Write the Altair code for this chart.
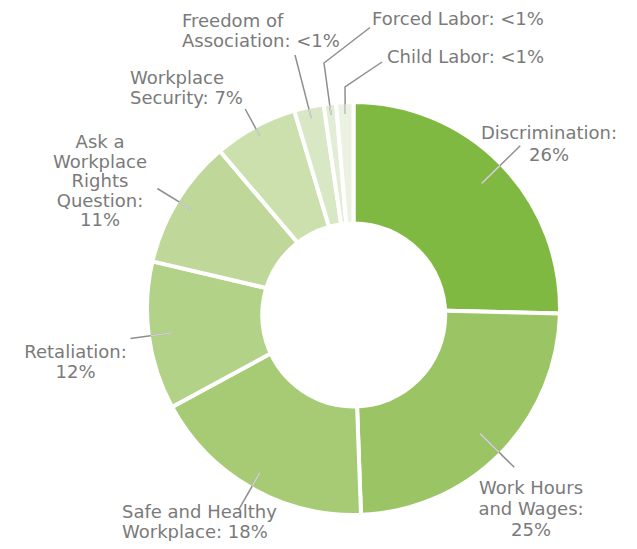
import altair as alt
import pandas as pd
import numpy as np

# ---- data ----
categories = ["Discrimination", "Work Hours and Wages", "Safe and Healthy Workplace",
              "Retaliation", "Ask a Workplace Rights Question", "Workplace Security",
              "Freedom of Association", "Forced Labor", "Child Labor"]
# slice sizes as drawn (small categories are drawn wider than their <1% share)
shares = [26.3, 24.9, 18.3, 12.0, 10.5, 6.8, 2.4, 1.0, 1.4]
share_text = ["26%", "25%", "18%", "12%", "11%", "7%", "<1%", "<1%", "<1%"]
label_lines = [
    ["Discrimination:", "26%"],
    ["Work Hours", "and Wages:", "25%"],
    ["Safe and Healthy", "Workplace: 18%"],
    ["Retaliation:", "12%"],
    ["Ask a", "Workplace", "Rights", "Question:", "11%"],
    ["Workplace", "Security: 7%"],
    ["Freedom of", "Association: <1%"],
    ["Forced Labor: <1%"],
    ["Child Labor: <1%"],
]
colors = ["#80b942", "#9bc564", "#a6cb74", "#b2d287", "#bfd899",
          "#cce0ae", "#d8e8c5", "#e2edd6", "#ebf2e2"]

# ---- layout (styles / positions, relative to donut centre) ----
W, H = 621, 533
CX, CY = 345.5, 300.5          # centre of the pie
HOLE_DX, HOLE_DY, HOLE_R = 0.2, 6.5, 93.5   # white hole sits a little low
R_OUT = 206.5
# label anchor (dx, first-line dy, line spacing, align)
label_layout = [
    (195.5, -175, 22, "center"),
    (177.5, 180, 21, "center"),
    (-231.5, 204, 20, "left"),
    (-278, 44, 20.5, "center"),
    (-253.5, -165.5, 19.5, "center"),
    (-223.5, -230, 20, "left"),
    (-171.5, -287, 20, "left"),
    (18.5, -289, 0, "left"),
    (33.5, -250.5, 0, "left"),
]
# leader radii for the radial ones, and routing for the small slices
leader_radii = [(179, 233), (178, 226), (189, 231), (183, 225), (190, 230), (197, 227)]
leader_extra = [None, None, None, None, None, None,
                [(-58.5, -253.5)],
                [(-29.5, -245.5), (16.5, -281)],
                [(-8.5, -221.5), (28.5, -246.5)]]

df = pd.DataFrame({"cat": categories, "share": shares, "order": range(len(categories))})
total = float(sum(shares))
cum = np.cumsum([0] + shares[:-1])
mid = [(c + s / 2) / total * 2 * np.pi for c, s in zip(cum, shares)]

lead_rows, inner_rows, text_rows = [], [], []
for i, cat in enumerate(categories):
    a = mid[i]
    ux, uy = np.sin(a), -np.cos(a)
    if leader_extra[i] is None:
        r0, r1 = leader_radii[i]
        pts = [(r0 * ux, r0 * uy), (r1 * ux, r1 * uy)]
    else:
        r0 = 195
        pts = [(r0 * ux, r0 * uy)] + list(leader_extra[i])
    for k, (px, py) in enumerate(pts):
        lead_rows.append({"cat": cat, "seq": k, "x": CX + px, "y": CY + py})
    # part of first segment inside the donut (drawn lighter)
    (x0, y0), (x1, y1) = pts[0], pts[1]
    dx, dy = x1 - x0, y1 - y0
    A = dx * dx + dy * dy
    B = 2 * (x0 * dx + y0 * dy)
    C = x0 * x0 + y0 * y0 - (R_OUT - 2) ** 2
    t = (-B + np.sqrt(B * B - 4 * A * C)) / (2 * A)
    inner_rows.append({"cat": cat, "x": CX + x0, "y": CY + y0,
                       "x2": CX + x0 + t * dx, "y2": CY + y0 + t * dy})
    lx, ly, lh, al = label_layout[i]
    for j, line in enumerate(label_lines[i]):
        text_rows.append({"text": line, "x": CX + lx, "y": CY + ly + j * lh, "align": al})

lead_df = pd.DataFrame(lead_rows)
inner_df = pd.DataFrame(inner_rows)
text_df = pd.DataFrame(text_rows)

arcs = alt.Chart(df).mark_arc(outerRadius=R_OUT, stroke="white", strokeWidth=4).encode(
    theta=alt.Theta("share:Q", stack=True),
    order=alt.Order("order:Q"),
    color=alt.Color("cat:N", scale=alt.Scale(domain=categories, range=colors), legend=None),
    x=alt.value(CX), y=alt.value(CY),
)

# symbol size is the area of its bounding square
hole = alt.Chart(pd.DataFrame({"h": [0]})).mark_circle(
    size=float((2 * HOLE_R) ** 2), color="white", opacity=1).encode(
    x=alt.value(CX + HOLE_DX), y=alt.value(CY + HOLE_DY))

leaders = alt.Chart(lead_df).mark_line(color="#8f8f8f", strokeWidth=1.5).encode(
    x=alt.X("x:Q", scale=None), y=alt.Y("y:Q", scale=None),
    detail="cat:N", order="seq:Q",
)
inner = alt.Chart(inner_df).mark_rule(color="#d3d3d3", strokeWidth=1.5).encode(
    x=alt.X("x:Q", scale=None), y=alt.Y("y:Q", scale=None),
    x2="x2:Q", y2="y2:Q",
)

font = dict(font="DejaVu Sans", fontSize=18, color="#7a7a7a", baseline="middle")
t_center = alt.Chart(text_df[text_df["align"] == "center"]).mark_text(align="center", **font).encode(
    x=alt.X("x:Q", scale=None), y=alt.Y("y:Q", scale=None), text="text:N")
t_left = alt.Chart(text_df[text_df["align"] == "left"]).mark_text(align="left", **font).encode(
    x=alt.X("x:Q", scale=None), y=alt.Y("y:Q", scale=None), text="text:N")

chart = alt.layer(arcs, hole, leaders, inner, t_center, t_left).properties(
    width=W, height=H, padding=0, autosize="none"
).configure_view(stroke=None)

chart.save("out.html", embed_options={"renderer": "svg", "actions": False})
